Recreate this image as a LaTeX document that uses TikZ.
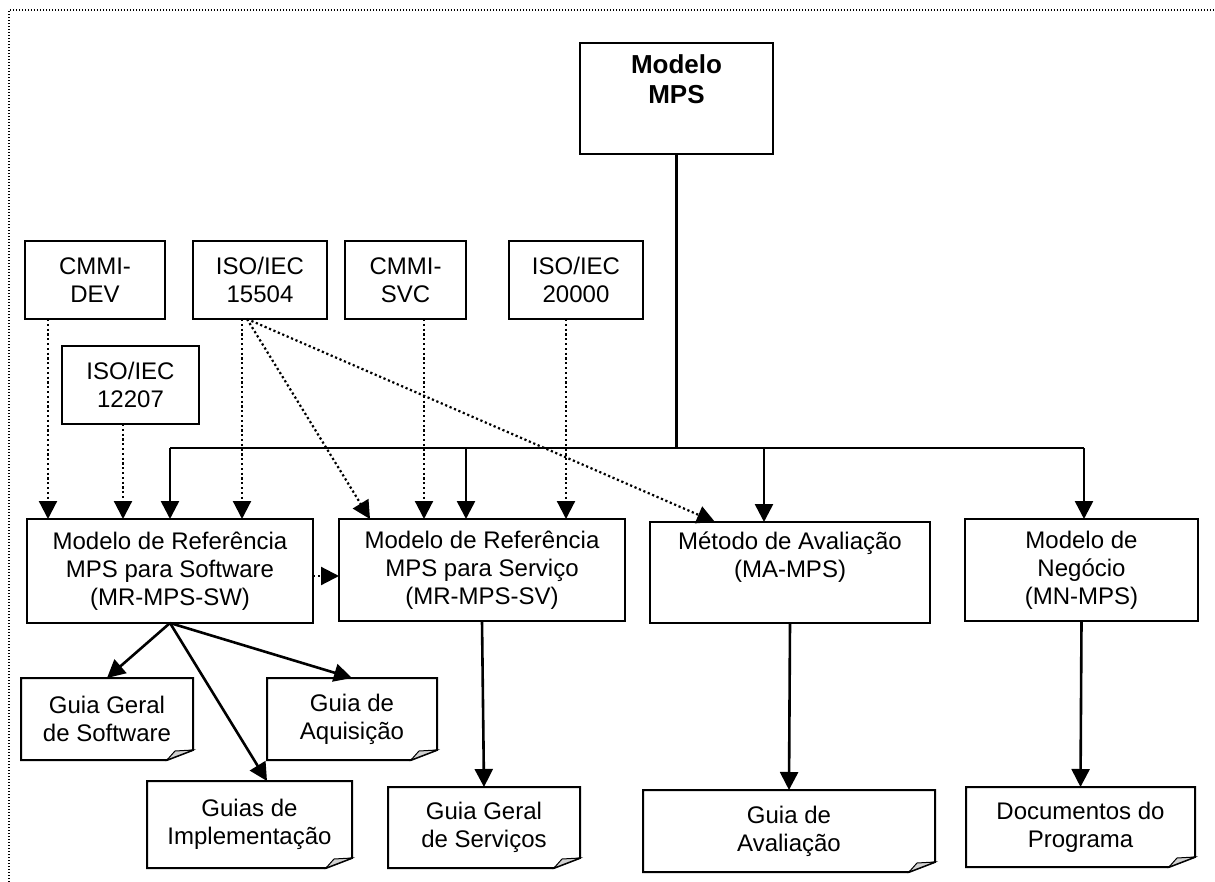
\documentclass[tikz,border=0pt]{standalone}
\usepackage{fontspec}
\setmainfont{Liberation Sans}
\usetikzlibrary{arrows.meta}
\tikzset{
  box/.style={draw, line width=1pt, inner sep=0pt, outer sep=0pt, align=center,
    font=\fontsize{12}{14}\selectfont},
  doc/.style={box, draw=none},
  bus/.style={line width=1.3pt},
  link/.style={line width=1.3pt, -{Triangle[length=9pt,width=9pt]}},
  hint/.style={line width=1.1pt, dash pattern=on 1.1pt off 1.3pt, -{Triangle[length=9pt,width=9pt]}},
  frame/.style={line width=0.7pt, dash pattern=on 0.7pt off 0.8pt}
}
\begin{document}
\begin{tikzpicture}[x=0.5pt,y=-0.5pt]
\useasboundingbox (0,0) rectangle (1215,882);
\draw[frame] (9,882) -- (9,10) -- (1215,10);
% top model
\node[box, minimum width=96.5pt, minimum height=55.5pt, font=\fontsize{13}{15}\selectfont\bfseries] (mps) at (676.5,98.5) {Modelo\\MPS\\\strut};
% standards
\node[box, minimum width=70pt, minimum height=39pt] (cmmidev) at (95,280) {CMMI-\\DEV};
\node[box, minimum width=67pt, minimum height=39pt] (iso15504) at (260,280) {ISO/IEC\\15504};
\node[box, minimum width=60.5pt, minimum height=39pt] (cmmisvc) at (405.5,280) {CMMI-\\SVC};
\node[box, minimum width=67pt, minimum height=39pt] (iso20000) at (576,280) {ISO/IEC\\20000};
\node[box, minimum width=68.5pt, minimum height=39pt] (iso12207) at (130.5,385) {ISO/IEC\\12207};
% components
\node[box, minimum width=143pt, minimum height=52pt] (mrsw) at (170,571) {Modelo de Referência\\MPS para Software\\(MR-MPS-SW)};
\node[box, minimum width=143pt, minimum height=51pt] (mrsv) at (482,570) {Modelo de Referência\\MPS para Serviço\\(MR-MPS-SV)};
\node[box, minimum width=140pt, minimum height=50.5pt] (ma) at (790,572.5) {Método de Avaliação\\(MA-MPS)\\\strut};
\node[box, minimum width=116.5pt, minimum height=51pt] (mn) at (1081.5,570) {Modelo de\\Negócio\\(MN-MPS)};
% guides
\node[doc, minimum width=86pt, minimum height=41pt] (gsw) at (107,719) {Guia Geral\\de Software};
\node[doc, minimum width=85pt, minimum height=41pt] (gaq) at (352,719) {Guia de\\Aquisição};
\node[doc, minimum width=102.5pt, minimum height=43.5pt] (gimp) at (249.5,824.5) {Guias de\\Implementação};
\node[doc, minimum width=96pt, minimum height=40.5pt] (gsv) at (484,827.5) {Guia Geral\\de Serviços};
\node[doc, minimum width=146pt, minimum height=41pt] (gav) at (789,831) {Guia de\\Avaliação};
\node[doc, minimum width=114.5pt, minimum height=40pt] (gdoc) at (1080.5,827) {Documentos do\\Programa};
\foreach \d in {gsw,gaq,gimp,gsv,gav,gdoc}{
  \draw[line width=1pt] (\d.north west) -- (\d.north east) -- ([yshift=5pt]\d.south east)
    -- ([xshift=-13pt]\d.south east) -- (\d.south west) -- cycle;
  \filldraw[line width=0.5pt, fill=gray!35] ([yshift=5pt]\d.south east) -- ([xshift=-13pt]\d.south east)
    -- ([xshift=-9pt,yshift=4.5pt]\d.south east) -- cycle;
}
% bus from the model
\coordinate (busl) at (170,448);
\coordinate (busr) at (1084,448);
\coordinate (dsv) at (466,448);
\coordinate (dma) at (764,448);
\draw[bus] (mps.south) -- (mps.south |- busl);
\draw[bus] (busl) -- (busr);
\draw[link] (busl) -- (busl |- mrsw.north);
\draw[link] (dsv) -- (dsv |- mrsv.north);
\draw[link] (dma) -- (dma |- ma.north);
\draw[link] (busr) -- (busr |- mn.north);
% standards into the models
\draw[hint] ([xshift=11.5pt]cmmidev.south west) -- ([xshift=11.5pt]cmmidev.south west |- mrsw.north);
\draw[hint] ([xshift=-3.75pt]iso12207.south) -- ([xshift=-3.75pt]iso12207.south |- mrsw.north);
\draw[hint] ([xshift=-9pt]iso15504.south) -- ([xshift=-9pt]iso15504.south |- mrsw.north);
\draw[hint] ([xshift=-6.5pt]iso15504.south) -- ([xshift=15.5pt]mrsv.north west);
\draw[hint] ([xshift=-6.5pt]iso15504.south) -- ([xshift=32.5pt]ma.north west);
\draw[hint] ([xshift=9.25pt]cmmisvc.south) -- ([xshift=9.25pt]cmmisvc.south |- mrsv.north);
\draw[hint] ([xshift=-5pt]iso20000.south) -- ([xshift=-5pt]iso20000.south |- mrsv.north);
\draw[hint] ([yshift=-2.5pt]mrsw.east) -- ([yshift=-2.5pt]mrsw.east -| mrsv.west);
% guides
\draw[link] (mrsw.south) -- (gsw.north);
\draw[link] (mrsw.south) -- (gaq.north);
\draw[link] (mrsw.south) -- ([xshift=8.75pt]gimp.north);
\draw[link] (mrsv.south) -- (gsv.north);
\draw[link] (ma.south) -- (gav.north);
\draw[link] (mn.south) -- (gdoc.north);
\end{tikzpicture}
\end{document}
